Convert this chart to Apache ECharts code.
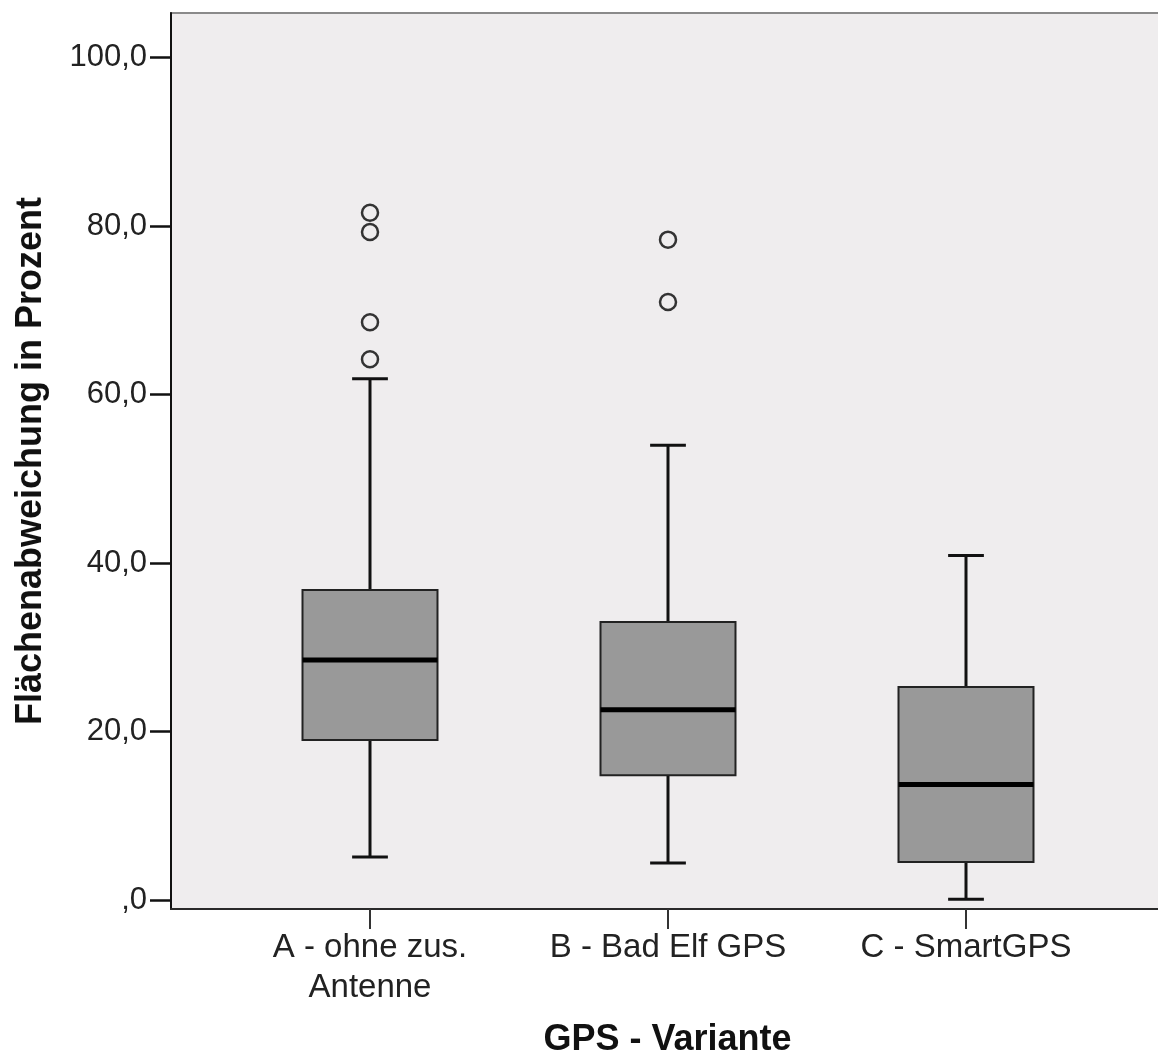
<!DOCTYPE html>
<html>
<head>
<meta charset="utf-8">
<script src="https://cdn.jsdelivr.net/npm/echarts@6/dist/echarts.min.js"></script>
<style>
html,body{margin:0;padding:0;background:#fff;}
#c{width:1158px;height:1055px;}
</style>
</head>
<body>
<div id="c"></div>
<script>
// ---- data ----
const categories = ['A - ohne zus.\nAntenne', 'B - Bad Elf GPS', 'C - SmartGPS'];
const whiskerLow  = [5.1, 4.4, 0.1];
const quartile1   = [19.0, 14.8, 4.5];
const medians     = [28.5, 22.6, 13.7];
const quartile3   = [36.8, 33.0, 25.3];
const whiskerHigh = [61.9, 54.0, 40.9];
const outliersA = [81.6, 79.3, 68.6, 64.2];
const outliersB = [78.4, 71.0];
const outliersC = [];
const yTickValues = [0, 20, 40, 60, 80, 100];
const yTickLabels = [',0', '20,0', '40,0', '60,0', '80,0', '100,0'];

const boxData = categories.map((c, i) => [i, whiskerLow[i], quartile1[i], medians[i], quartile3[i], whiskerHigh[i]]);
const outlierData = [];
[outliersA, outliersB, outliersC].forEach((arr, i) => arr.forEach(v => outlierData.push([i, v])));

const Y_MIN = -1.07, Y_MAX = 105.31;
const FONT = '"Liberation Sans", Arial, sans-serif';

const chart = echarts.init(document.getElementById('c'), null, {renderer: 'canvas'});

chart.setOption({
  animation: false,
  backgroundColor: '#ffffff',
  grid: [
    {left: 171, top: 13, width: 993, height: 896, show: true,
     backgroundColor: '#EFEDEE', borderColor: '#8a8a8a', borderWidth: 2,
     containLabel: false, outerBoundsMode: 'none'},
    {left: 221, top: 13, width: 894, height: 896, show: false,
     containLabel: false, outerBoundsMode: 'none'}
  ],
  xAxis: [
    {gridIndex: 0, type: 'value', min: 0, max: 1, position: 'bottom',
     axisLine: {show: true, onZero: false, lineStyle: {color: '#2a2a2a', width: 2}},
     axisTick: {show: false}, axisLabel: {show: false}, splitLine: {show: false},
     name: 'GPS - Variante', nameLocation: 'middle', nameGap: 113,
     nameTextStyle: {fontFamily: FONT, fontSize: 36, fontWeight: 'bold', color: '#111'}},
    {gridIndex: 1, type: 'category', data: categories, boundaryGap: true, position: 'bottom',
     axisLine: {show: false, onZero: false},
     axisTick: {show: true, alignWithLabel: true, length: 20, lineStyle: {color: '#333', width: 2}},
     axisLabel: {show: true, interval: 0, margin: 19, fontFamily: FONT, fontSize: 33,
                 lineHeight: 40, color: '#222'},
     splitLine: {show: false}}
  ],
  yAxis: [
    {gridIndex: 0, type: 'value', min: Y_MIN, max: Y_MAX,
     axisLine: {show: true, onZero: false, lineStyle: {color: '#111', width: 2}},
     axisTick: {show: true, length: 21, customValues: yTickValues, lineStyle: {color: '#111', width: 2.5}},
     axisLabel: {show: true, margin: 24, customValues: yTickValues, fontFamily: FONT, fontSize: 31,
                 color: '#222',
                 formatter: function (v) {
                   const idx = yTickValues.findIndex(t => Math.abs(t - v) < 1e-6);
                   return idx >= 0 ? yTickLabels[idx] : '';
                 }},
     splitLine: {show: false},
     name: 'Flächenabweichung in Prozent', nameLocation: 'middle', nameGap: 122,
     nameTextStyle: {fontFamily: FONT, fontSize: 36, fontWeight: 'bold', color: '#111'}},
    {gridIndex: 1, type: 'value', min: Y_MIN, max: Y_MAX, show: false,
     axisLine: {onZero: false},
     splitLine: {show: false}}
  ],
  series: [
    {
      type: 'custom',
      xAxisIndex: 1, yAxisIndex: 1,
      data: boxData,
      renderItem: function (params, api) {
        const x = api.value(0);
        const pLo = api.coord([x, api.value(1)]);
        const pQ1 = api.coord([x, api.value(2)]);
        const pMed = api.coord([x, api.value(3)]);
        const pQ3 = api.coord([x, api.value(4)]);
        const pHi = api.coord([x, api.value(5)]);
        const band = api.size([1, 0])[0];
        const half = band * 0.2265;
        const cap = band * 0.06;
        const cx = pMed[0];
        const wStyle = {stroke: '#111', lineWidth: 3, fill: null};
        return {
          type: 'group',
          children: [
            {type: 'line', shape: {x1: cx, y1: pHi[1], x2: cx, y2: pQ3[1]}, style: wStyle},
            {type: 'line', shape: {x1: cx, y1: pQ1[1], x2: cx, y2: pLo[1]}, style: wStyle},
            {type: 'line', shape: {x1: cx - cap, y1: pHi[1], x2: cx + cap, y2: pHi[1]}, style: wStyle},
            {type: 'line', shape: {x1: cx - cap, y1: pLo[1], x2: cx + cap, y2: pLo[1]}, style: wStyle},
            {type: 'rect', shape: {x: cx - half, y: pQ3[1], width: 2 * half, height: pQ1[1] - pQ3[1]},
             style: {fill: '#999999', stroke: '#222', lineWidth: 2}},
            {type: 'line', shape: {x1: cx - half, y1: pMed[1], x2: cx + half, y2: pMed[1]},
             style: {stroke: '#000', lineWidth: 5}}
          ]
        };
      }
    },
    {
      type: 'scatter',
      xAxisIndex: 1, yAxisIndex: 1,
      data: outlierData,
      symbol: 'circle',
      symbolSize: 16,
      itemStyle: {color: 'rgba(0,0,0,0)', borderColor: '#333', borderWidth: 2.5, opacity: 1}
    }
  ]
});
</script>
</body>
</html>
